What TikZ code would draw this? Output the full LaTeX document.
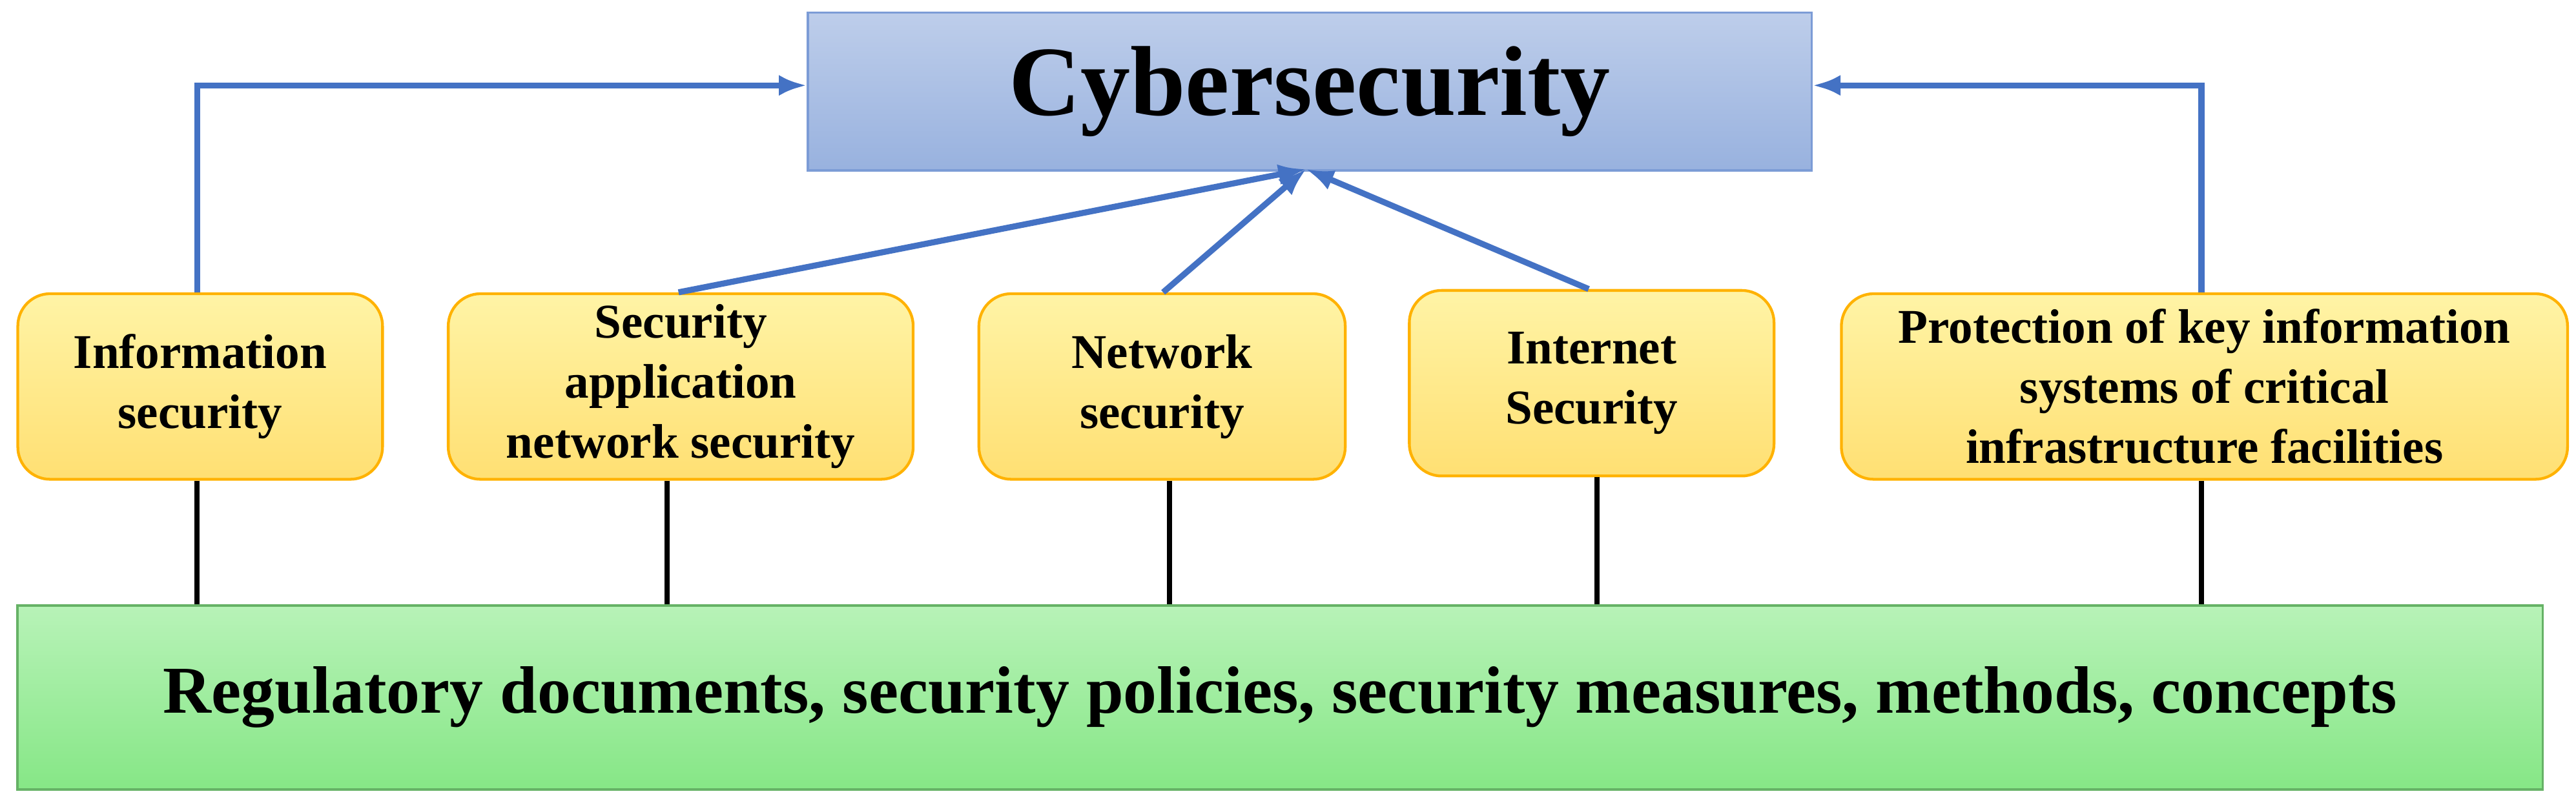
\documentclass[tikz,border=0pt]{standalone}
\usepackage{fontspec}
\setmainfont{Liberation Serif}
\usetikzlibrary{arrows.meta}
\definecolor{arr}{HTML}{4472C4}
\tikzset{
 sub/.style={draw=orange!60!yellow, line width=1.2pt, rounded corners=14pt, top color=orange!25!yellow!35, bottom color=orange!45!yellow!55, align=center, font=\bfseries\fontsize{21pt}{26pt}\selectfont, anchor=north west, inner sep=0pt},
 bar/.style={line width=2.2pt, black},
 up/.style={line width=2.6pt, arr, -{Latex[length=12pt,width=9pt]}}
}
\begin{document}
\begin{tikzpicture}[x=0.025cm,y=-0.025cm]
\useasboundingbox (0,0) rectangle (1568,490);
\node[draw=arr!70, line width=1pt, top color=arr!35!white, bottom color=arr!55!white, minimum width=611*0.025cm, minimum height=96*0.025cm, anchor=north west, font=\bfseries\fontsize{43pt}{50pt}\selectfont] (cyb) at (491,7) {Cybersecurity};
\node[sub, minimum width=222*0.025cm, minimum height=113*0.025cm] (b1) at (10,178) {Information\\security};
\node[sub, minimum width=283*0.025cm, minimum height=113*0.025cm] (b2) at (272,178) {Security\\application\\network security};
\node[sub, minimum width=223*0.025cm, minimum height=113*0.025cm] (b3) at (595,178) {Network\\security};
\node[sub, minimum width=222*0.025cm, minimum height=113*0.025cm] (b4) at (857,176) {Internet\\Security};
\node[sub, minimum width=442*0.025cm, minimum height=113*0.025cm] (b5) at (1120,178) {Protection of key information\\systems of critical\\infrastructure facilities};
\node[draw=green!50!black!60, line width=1pt, top color=green!40!black!10!white!80!green, bottom color=green!45!black!25!white!70!green, minimum width=1537*0.025cm, minimum height=112*0.025cm, anchor=north west, font=\bfseries\fontsize{29pt}{34pt}\selectfont] (reg) at (10,368) {Regulatory documents, security policies, security measures, methods, concepts};
\coordinate (c1) at (120,52); \coordinate (c5) at (1340,52);
\coordinate (t) at (795,103);
\draw[up] (b1.north -| 120,0) -- (c1) -- (c1 -| cyb.west);
\draw[up] (b5.north -| 1340,0) -- (c5) -- (c5 -| cyb.east);
\draw[up] (b2.north -| 413,0) -- (t);
\draw[up] (b3.north -| 708,0) -- (t);
\draw[up] (b4.north -| 967,0) -- (t);
\foreach \b/\x in {b1/120,b2/406,b3/712,b4/972,b5/1340}
  \draw[bar] (\b.south -| \x,0) -- (reg.north -| \x,0);
\end{tikzpicture}
\end{document}
